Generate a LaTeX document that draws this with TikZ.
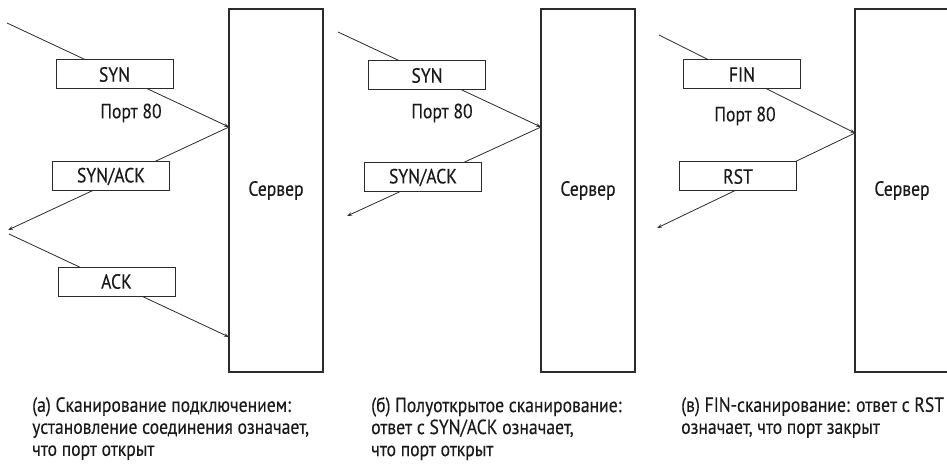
\documentclass[tikz,border=0pt]{standalone}
\usepackage{fontspec}
\setmainfont[FakeStretch=0.86,FakeBold=0.3]{PT Sans}
\usetikzlibrary{positioning,arrows.meta}
\definecolor{linegray}{HTML}{2B2B2B}
\definecolor{textgray}{HTML}{1A1A1A}

\begin{document}
\begin{tikzpicture}[x=1pt,y=-1pt,
  srv/.style={draw=linegray,line width=1.2pt,minimum width=94pt,minimum height=363pt,inner sep=0pt},
  pkt/.style={draw=linegray,fill=white,line width=1pt,minimum width=117pt,minimum height=29pt,inner sep=0pt},
  arr/.style={-{Stealth[length=5pt,width=3.5pt]},line width=0.8pt,color=linegray},
  captext/.style={anchor=north west,align=left,inner sep=0pt,text=textgray},
  font=\fontsize{20.5}{22}\selectfont,text=textgray]
  \useasboundingbox (0,0) rectangle (947,465);

  % (a) connect scan
  \node[srv] (srvA) at (276,190.5) {Сервер};
  \coordinate (hitA) at (229,127);
  \coordinate (hitA2) at (229,337);
  \coordinate (inA) at (7,23);
  \coordinate (outA) at (8,230);
  \coordinate (ackA) at (9,234);
  \draw[arr] (inA) -- (hitA);
  \draw[arr] (hitA) -- (outA);
  \draw[arr] (ackA) -- (hitA2);
  \node[pkt] (synA) at (114.5,74.5) {SYN};
  \node (portA) at (131,113) {Порт 80};
  \node[pkt] (synackA) at (111,176.5) {SYN/ACK};
  \node[pkt] (ackboxA) at (116.5,281.5) {ACK};

  % (b) half-open scan
  \node[srv] (srvB) at (588,190.5) {Сервер};
  \coordinate (hitB) at (541,127);
  \coordinate (inB) at (338,32);
  \coordinate (outB) at (347,216);
  \draw[arr] (inB) -- (hitB);
  \draw[arr] (hitB) -- (outB);
  \node[pkt] (synB) at (427,75.5) {SYN};
  \node (portB) at (442,113) {Порт 80};
  \node[pkt] (synackB) at (423,177.5) {SYN/ACK};

  % (c) FIN scan
  \node[srv] (srvC) at (902,190.5) {Сервер};
  \coordinate (hitC) at (855,133);
  \coordinate (inC) at (659,35);
  \coordinate (outC) at (657,228);
  \draw[arr] (inC) -- (hitC);
  \draw[arr] (hitC) -- (outC);
  \node[pkt] (finC) at (742,74.5) {FIN};
  \node (portC) at (745,116) {Порт 80};
  \node[pkt] (rstC) at (738,176.5) {RST};

  % captions
  \node[captext] (capA) at (32,397) {(а) Сканирование подключением:\\установление соединения означает,\\что порт открыт};
  \node[captext] (capB) at (371,397) {(б) Полуоткрытое сканирование:\\ответ с SYN/ACK означает,\\что порт открыт};
  \node[captext] (capC) at (681,397) {(в) FIN-сканирование: ответ с RST\\означает, что порт закрыт};
\end{tikzpicture}
\end{document}
